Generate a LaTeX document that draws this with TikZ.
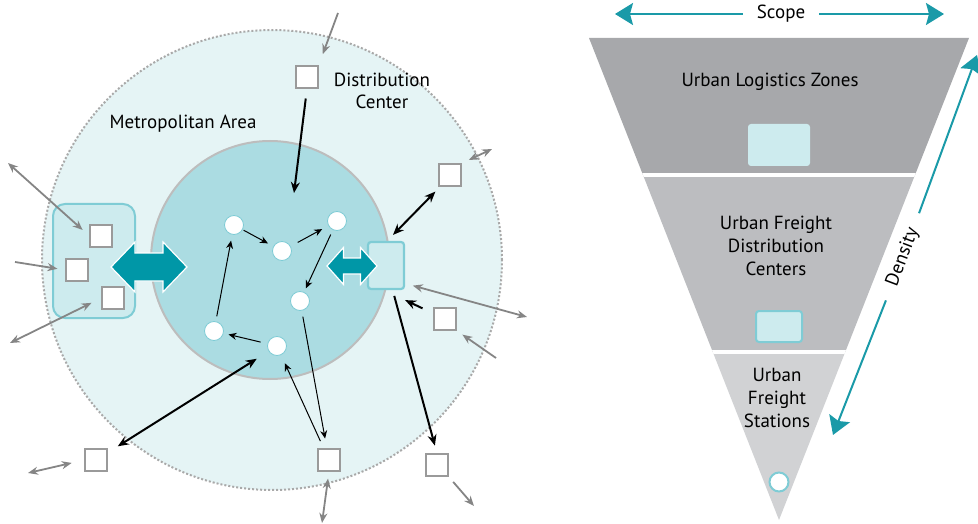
\documentclass[tikz,border=0pt]{standalone}
\usepackage{fontspec}
\setmainfont{PT Sans}
\usetikzlibrary{arrows.meta,calc}
\definecolor{outerfill}{HTML}{E5F4F5}
\definecolor{innerfill}{HTML}{ABDCE2}
\definecolor{innerline}{HTML}{BDBDBD}
\definecolor{dotline}{HTML}{A9A9A9}
\definecolor{boxfill}{HTML}{CDEBEE}
\definecolor{boxline}{HTML}{7FCCD5}
\definecolor{tealdark}{HTML}{0097A7}
\definecolor{tealline}{HTML}{1A9AA8}
\definecolor{arrowgray}{HTML}{858585}
\definecolor{sqline}{HTML}{9A9A9A}
\definecolor{bandA}{HTML}{A7A8AB}
\definecolor{bandB}{HTML}{BCBDC0}
\definecolor{bandC}{HTML}{D1D2D4}
\begin{document}
\begin{tikzpicture}[x=1pt,y=-1pt,
  every node/.style={font=\fontsize{19}{22}\selectfont},
  sq/.style={draw=sqline, fill=white, line width=1.2pt, minimum size=22pt, inner sep=0pt},
  dot/.style={circle, draw=boxline, fill=white, line width=0.8pt, minimum size=19pt, inner sep=0pt},
  ft/.tip={Stealth[length=8pt,width=7pt]},
  ht/.tip={Stealth[length=11pt,width=9pt]},
  gt/.tip={Stealth[length=10pt,width=8pt]},
  tt/.tip={Stealth[length=18pt,width=22pt,inset=3pt]},
  flow/.style={line width=1pt, black},
  heavy/.style={line width=2pt, black},
  grayflow/.style={line width=1.8pt, arrowgray},
  tealflow/.style={line width=2pt, tealline},
  bigarrow/.style={fill=tealdark, draw=white, line width=1.2pt, line join=miter},
  zonebox/.style={fill=boxfill, draw=boxline, line width=2pt, rounded corners=3pt}
]
\useasboundingbox (0,0) rectangle (978,524);

% ---------- metropolitan area ----------
\fill[outerfill] (272,260) circle[radius=230pt];
\draw[dotline, line width=2pt, dash pattern=on 2pt off 2pt] (272,260) circle[radius=230pt];
\filldraw[fill=innerfill, draw=innerline, line width=2pt] (270,260) circle[radius=119pt];

\node (dclabel) [align=center] at (382,91) {Distribution\\Center};
\node (metro) at (183,124) {Metropolitan Area};

% logistics zone on the left with its depots
\node (zone) [fill=boxfill, draw=boxline, line width=2pt, rounded corners=12pt,
  minimum width=82pt, minimum height=114pt, inner sep=0pt] at (94,261) {};
\node (sqA) [sq] at (101,236) {};
\node (sqB) [sq] at (77,270) {};
\node (sqC) [sq] at (113,298) {};

% outer depots
\node (sqDC) [sq] at (307,77) {};
\node (sqNE) [sq] at (450,175) {};
\node (sqE)  [sq] at (445,319) {};
\node (sqS)  [sq] at (329,460) {};
\node (sqSW) [sq] at (96,460) {};
\node (sqSE) [sq] at (437,465) {};

% freight distribution centre on the rim
\node (hub) [zonebox, line width=2.2pt, minimum width=36pt, minimum height=47pt, inner sep=0pt] at (386,265.5) {};

% freight stations
\node (c1) [dot] at (234,225) {};
\node (c2) [dot] at (282,251) {};
\node (c3) [dot] at (337,221) {};
\node (c4) [dot] at (300,301) {};
\node (c5) [dot] at (214,331) {};
\node (c6) [dot] at (277,346) {};

% wide two-way flows
\path[bigarrow] (111,267) -- (135,242) -- (135,253) -- (163,253) -- (163,242) -- (187,267)
  -- (163,292) -- (163,281) -- (135,281) -- (135,292) -- cycle;
\path[bigarrow] (327,266) -- (343.5,247.5) -- (343.5,258) -- (360.5,258) -- (360.5,247.5) -- (377,266)
  -- (360.5,284.5) -- (360.5,274) -- (343.5,274) -- (343.5,284.5) -- cycle;

% flows between stations
\draw[flow, -ft, shorten <=1pt, shorten >=6pt] (c1) -- (c2);
\draw[flow, -ft, shorten <=8pt, shorten >=7pt] (c2) -- (c3);
\draw[flow, -ft, shorten <=5pt, shorten >=4pt] (c3) -- (c4);
\draw[flow, -ft, shorten <=7pt, shorten >=5pt] (c6) -- (c5);
\draw[flow, -ft, shorten <=5pt, shorten >=6pt] (c5) -- (c1);
\draw[flow, -ft, shorten <=6pt, shorten >=10pt] (c4) -- (sqS);
\draw[flow, -ft, shorten <=8pt, shorten >=9pt] (sqS) -- (c6);

% heavy flows
\coordinate (dcIn) at (294,193);
\draw[heavy, -ht, shorten <=10pt] (sqDC.south) -- (dcIn);
\draw[heavy, ht-ht, shorten <=12pt, shorten >=14pt] (sqSW) -- (c6);
\draw[heavy, -ht, shorten <=6pt, shorten >=8pt] (hub) -- (sqSE.north);
\draw[heavy, -ht, shorten <=12pt] (sqE) -- ([yshift=-10pt]hub.south east);
\draw[heavy, ht-ht] ([xshift=7pt,yshift=6pt]hub.north) -- ([xshift=-3pt,yshift=-5pt]sqNE.south west);

% links leaving the metropolitan area
\coordinate (dcOut) at (338,13);
\coordinate (neOut) at (492,149);
\coordinate (hubOut) at (527,317);
\coordinate (eOut) at (496,358);
\coordinate (seOut) at (474,506);
\coordinate (sOut) at (322,523);
\coordinate (swOut) at (28,473);
\coordinate (lOut1) at (8,163);
\coordinate (lOut2) at (15,262);
\coordinate (lOut3) at (10,343);
\draw[grayflow, -gt, shorten >=12pt] (dcOut) -- (sqDC.north east);
\draw[grayflow, gt-gt, shorten <=8pt] (sqNE.north east) -- (neOut);
\draw[grayflow, gt-gt, shorten <=8pt] ([yshift=-18pt]hub.east) -- (hubOut);
\draw[grayflow, -gt, shorten >=7pt] (eOut) -- (sqE.south east);
\draw[grayflow, -gt, shorten <=7pt] (sqSE.south east) -- (seOut);
\draw[grayflow, gt-gt, shorten <=7pt] (sqS.south) -- (sOut);
\draw[grayflow, gt-gt, shorten <=13pt] (sqSW.west) -- (swOut);
\draw[grayflow, gt-gt, shorten >=9pt] (lOut1) -- (sqA.west);
\draw[grayflow, -gt, shorten >=8pt] (lOut2) -- (sqB.west);
\draw[grayflow, gt-gt, shorten >=11pt] (lOut3) -- (sqC.west);

% ---------- hierarchy funnel ----------
\begin{scope}
  \clip (589,38) -- (969,38) -- (779,520) -- cycle;
  \fill[bandA] (580,30) rectangle (980,175);
  \fill[bandB] (580,175) rectangle (980,352);
  \fill[bandC] (580,352) rectangle (980,530);
  \draw[white, line width=3.5pt] (580,175) -- (980,175);
  \draw[white, line width=3.5pt] (580,352) -- (980,352);
\end{scope}

\node (zoneA) at (770,82) {Urban Logistics Zones};
\node (zoneB) [align=center, font=\fontsize{19}{23}\selectfont] at (776,246) {Urban Freight\\Distribution\\Centers};
\node (zoneC) [align=center, font=\fontsize{19}{23}\selectfont] at (777,398) {Urban\\Freight\\Stations};

\node (iconA) [fill=boxfill, rounded corners=3pt, minimum width=62pt, minimum height=42pt, inner sep=0pt] at (779,145) {};
\node (iconB) [zonebox, minimum width=46pt, minimum height=31pt, inner sep=0pt] at (779,326.5) {};
\node (iconC) [circle, draw=boxline, fill=white, line width=2pt, minimum size=19pt, inner sep=0pt] at (779,482) {};

% scope and density axes
\node (scope) [inner xsep=14pt] at (781,14) {Scope};
\coordinate (scopeL) at (615,14);
\coordinate (scopeR) at (944,14);
\draw[tealflow, -tt] (scope) -- (scopeL);
\draw[tealflow, -tt] (scope) -- (scopeR);

\node (density) [rotate=69.25, inner xsep=16pt] at (903,257) {Density};
\coordinate (densTop) at (977,55);
\coordinate (densBot) at (833,435);
\draw[tealflow, -tt] (density) -- (densTop);
\draw[tealflow, -tt] (density) -- (densBot);
\end{tikzpicture}
\end{document}
